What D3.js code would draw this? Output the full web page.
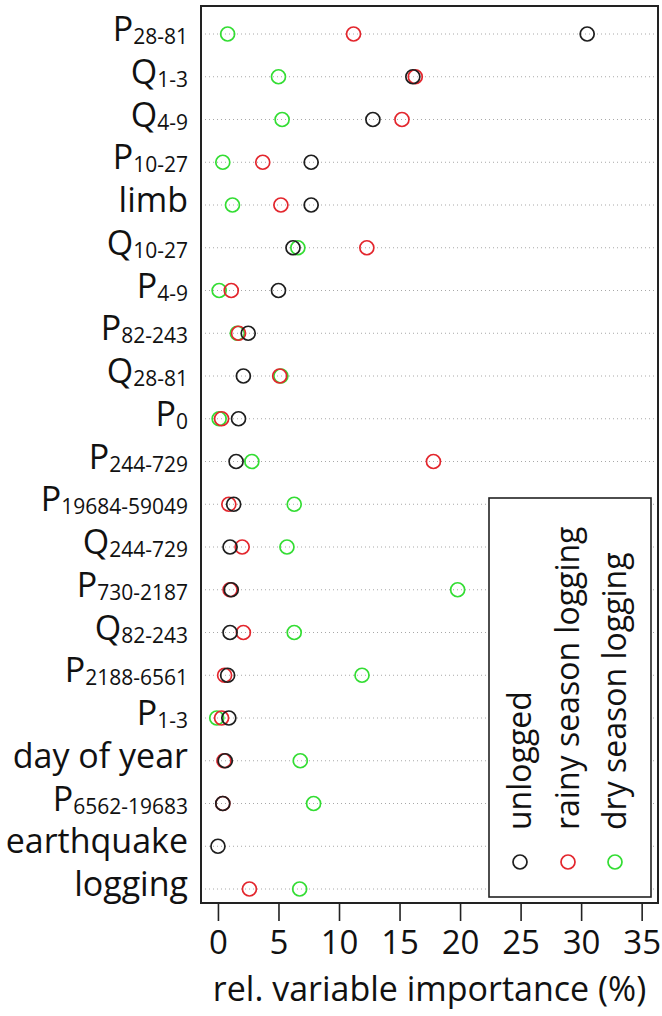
<!DOCTYPE html>
<html>
<head>
<meta charset="utf-8">
<script src="https://cdn.jsdelivr.net/npm/d3@7"></script>
<style>
    html, body { margin: 0; padding: 0; background: #fff; }
    svg { display: block; font-family: "Open Sans", sans-serif; }
</style>
</head>
<body>
<div id="app"></div>
<script>
// variable labels, top to bottom (main letter + subscript)
const labelBase = ["P", "Q", "Q", "P", "limb", "Q", "P", "P", "Q", "P", "P",
    "P", "Q", "P", "Q", "P", "P", "day of year", "P", "earthquake", "logging"];
const labelSub = ["28-81", "1-3", "4-9", "10-27", "", "10-27", "4-9", "82-243",
    "28-81", "0", "244-729", "19684-59049", "244-729", "730-2187", "82-243",
    "2188-6561", "1-3", "", "6562-19683", "", ""];

// relative variable importance (%) per treatment, same order as labels
const unlogged = [30.5, 16.1, 12.8, 7.7, 7.7, 6.2, 5.0, 2.5, 2.1, 1.7, 1.5,
    1.3, 1.0, 1.1, 1.0, 0.8, 0.9, 0.6, 0.4, 0.0, null];
const rainy = [11.2, 16.3, 15.2, 3.7, 5.2, 12.3, 1.1, 1.7, 5.1, 0.3, 17.8,
    0.9, 2.0, 1.0, 2.1, 0.55, 0.3, 0.5, 0.4, null, 2.6];
const dry = [0.8, 5.0, 5.3, 0.4, 1.2, 6.6, 0.1, 1.6, 5.2, 0.1, 2.8,
    6.3, 5.7, 19.8, 6.3, 11.9, -0.1, 6.8, 7.9, null, 6.75];

const xTicks = [0, 5, 10, 15, 20, 25, 30, 35];
const seriesNames = ["unlogged", "rainy season logging", "dry season logging"];
const seriesColors = ["#1e1e1e", "#e3262d", "#33dd33"];

const W = 662, H = 1016;
const box = { left: 201, right: 658, top: 6, bottom: 903 };

const svg = d3.select("#app")
    .append("svg")
    .attr("width", W)
    .attr("height", H);

const x = d3.scaleLinear()
    .domain([-1.4, 36.35])
    .range([box.left, box.right]);

const y = d3.scaleLinear()
    .domain([0, labelBase.length - 1])
    .range([34, 889]);

// dotted guide lines for each variable
svg.append("g")
    .selectAll("line")
    .data(labelBase)
    .enter()
    .append("line")
    .attr("x1", box.left)
    .attr("x2", box.right)
    .attr("y1", (d, i) => y(i))
    .attr("y2", (d, i) => y(i))
    .attr("stroke", "#a8a8a8")
    .attr("stroke-width", 1)
    .attr("stroke-dasharray", "1,3");

// points, drawn green -> red -> black so black ends on top
const series = [unlogged, rainy, dry];
[2, 1, 0].forEach((s) => {
    svg.append("g")
        .selectAll("circle")
        .data(series[s].map((v, i) => ({ v, i })).filter((d) => d.v !== null))
        .enter()
        .append("circle")
        .attr("cx", (d) => x(d.v))
        .attr("cy", (d) => y(d.i))
        .attr("r", 7)
        .attr("fill", "none")
        .attr("stroke", seriesColors[s])
        .attr("stroke-width", 1.7);
});

// row labels with subscripts
svg.append("g")
    .selectAll("text")
    .data(labelBase)
    .enter()
    .append("text")
    .attr("x", 188)
    .attr("y", (d, i) => y(i) + 7)
    .attr("text-anchor", "end")
    .attr("font-size", 34)
    .attr("fill", "#111")
    .each(function (d, i) {
        const t = d3.select(this);
        t.append("tspan").text(d);
        if (labelSub[i] !== "") {
            t.append("tspan")
                .attr("dy", 3)
                .attr("font-size", 21)
                .text(labelSub[i]);
        }
    });

// frame
svg.append("rect")
    .attr("x", box.left)
    .attr("y", box.top)
    .attr("width", box.right - box.left)
    .attr("height", box.bottom - box.top)
    .attr("fill", "none")
    .attr("stroke", "#222")
    .attr("stroke-width", 2);

// x axis
const xAxis = d3.axisBottom(x)
    .tickValues(xTicks)
    .tickSize(18)
    .tickPadding(10)
    .tickFormat(d3.format("d"));

const ax = svg.append("g")
    .attr("transform", `translate(0,${box.bottom})`)
    .call(xAxis);
ax.select(".domain").remove();
ax.selectAll(".tick line").attr("stroke", "#222").attr("stroke-width", 1.6);
ax.selectAll(".tick text")
    .attr("font-family", "Open Sans")
    .attr("font-size", 33)
    .attr("fill", "#111");

svg.append("text")
    .attr("x", (box.left + box.right) / 2)
    .attr("y", 1001)
    .attr("text-anchor", "middle")
    .attr("font-size", 34)
    .attr("fill", "#111")
    .text("rel. variable importance (%)");

// legend with rotated entries
const legend = svg.append("g");
legend.append("rect")
    .attr("x", 489)
    .attr("y", 498)
    .attr("width", 162)
    .attr("height", 399)
    .attr("fill", "#fff")
    .attr("stroke", "#222")
    .attr("stroke-width", 1.6);

const legendX = [520, 568, 615];
seriesNames.forEach((name, k) => {
    legend.append("circle")
        .attr("cx", legendX[k])
        .attr("cy", 862)
        .attr("r", 7)
        .attr("fill", "none")
        .attr("stroke", seriesColors[k])
        .attr("stroke-width", 1.7);
    legend.append("text")
        .attr("transform", `translate(${legendX[k] + 11},830) rotate(-90)`)
        .attr("font-size", 32)
        .attr("fill", "#111")
        .text(name);
});
</script>
</body>
</html>
